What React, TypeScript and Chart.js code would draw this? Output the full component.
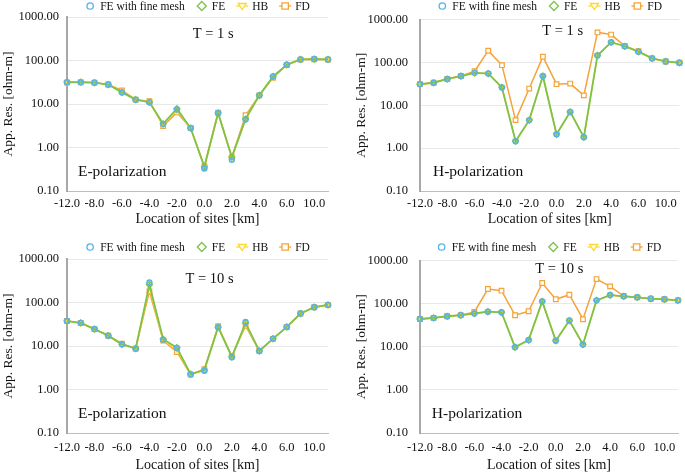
import React, { useEffect, useRef } from 'react';
import { Chart, registerables } from 'chart.js';

Chart.register(...registerables);

// ---------- data ----------
const SITES = [-12, -10, -8, -7, -6, -5, -4, -3, -2, -1, 0, 1, 2, 3, 4, 5, 6, 8, 10, 12];
const Y_TICKS = [0.1, 1, 10, 100, 1000];
const SERIES_NAMES = ['FE with fine mesh', 'FE', 'HB', 'FD'];

// E-polarization, T = 1 s
const E1_FINE = [31.5, 31.5, 31, 28, 18.5, 12.6, 10.9, 3.5, 7.5, 2.8, 0.33, 6.2, 0.52, 4.4, 15.8, 43, 80, 106, 108, 106];
const E1_FE = [32, 32, 31, 28, 18.5, 12.6, 11, 3.5, 7.8, 2.8, 0.36, 6.2, 0.6, 4.5, 15.8, 43, 80, 106, 108, 106];
const E1_HB = [31.5, 31.5, 31, 28, 18.5, 12.6, 11, 3.4, 7.2, 2.8, 0.36, 6.2, 0.58, 4.6, 15.8, 42, 80, 106, 108, 106];
const E1_FD = [31, 31.5, 31, 28, 20.5, 12.6, 11.6, 3.1, 6.4, 2.8, 0.37, 6.3, 0.6, 5.5, 15.8, 40, 79, 105, 107, 105];

// H-polarization, T = 1 s
const H1_FINE = [31, 33.5, 41, 48, 57, 55, 26, 1.45, 4.5, 48, 2.1, 7, 1.8, 145, 295, 238, 178, 124, 105, 98];
const H1_FE = [31, 33.5, 41, 48, 57, 55, 26, 1.45, 4.5, 48, 2.1, 7, 1.8, 145, 295, 238, 178, 124, 105, 98];
const H1_HB = [31, 33.5, 41, 48, 57, 55, 26, 1.45, 4.5, 48, 2.1, 7, 1.8, 145, 295, 238, 178, 124, 105, 98];
const H1_FD = [31, 33.5, 41, 48, 62, 188, 86, 4.5, 24.5, 136, 31, 32, 17, 500, 445, 240, 183, 124, 105, 98];

// E-polarization, T = 10 s
const E10_FINE = [37.5, 34, 24.5, 17.3, 10.9, 8.7, 290, 14, 9, 2.25, 2.7, 27, 5.5, 35.8, 7.7, 14.8, 27.4, 55.7, 78, 88];
const E10_FE = [37.5, 34, 24.5, 17.3, 10.9, 8.8, 260, 14.3, 9.2, 2.25, 2.8, 27, 5.6, 34, 7.7, 14.8, 27.4, 55.7, 78, 88];
const E10_HB = [37.5, 34, 24.5, 17.3, 11, 8.7, 230, 13.8, 8.5, 2.25, 2.8, 27.5, 5.7, 32, 7.7, 14.8, 27.4, 55.7, 78, 88];
const E10_FD = [37.5, 34, 24.5, 17.3, 11.3, 8.7, 180, 13.3, 7.3, 2.2, 2.95, 28.4, 5.9, 29, 7.7, 14.6, 27.4, 55.7, 78, 88];

// H-polarization, T = 10 s
const H10_FINE = [44, 46.7, 51, 54, 59, 65, 63, 9.8, 14.3, 113, 13.8, 40.5, 11.3, 119, 158, 148, 140, 130, 126, 119];
const H10_FE = [44, 46.7, 51, 54, 59, 65, 63, 9.8, 14.3, 113, 13.8, 40.5, 11.3, 119, 158, 148, 140, 130, 126, 119];
const H10_HB = [44, 46.7, 51, 54, 59, 65, 63, 9.8, 14.3, 113, 13.8, 40.5, 11.3, 119, 158, 148, 140, 130, 126, 119];
const H10_FD = [44, 46.7, 51, 54, 64, 218, 200, 53.8, 66.5, 300, 126, 161, 43.5, 371, 251, 150, 140, 130, 126, 119];

// ---------- styles ----------
const FONT = '"Liberation Serif", "Times New Roman", serif';
const TEXT = '#111111';
const BLUE = '#58B3E6';
const GREEN = '#7DC24B';
const YELLOW = '#FFD82A';
const ORANGE = '#F5A33A';
const COLORS = [BLUE, GREEN, YELLOW, ORANGE];
const STYLES = ['circle', 'rectRot', 'triangle', 'rect'];

function drawMarker(ctx: CanvasRenderingContext2D, idx: number, x: number, y: number) {
  ctx.save();
  ctx.strokeStyle = COLORS[idx];
  ctx.lineWidth = 1.3;
  ctx.beginPath();
  if (idx === 0) {
    ctx.arc(x, y, 3.2, 0, Math.PI * 2);
  } else if (idx === 1) {
    ctx.moveTo(x, y - 4.5);
    ctx.lineTo(x + 4.5, y);
    ctx.lineTo(x, y + 4.5);
    ctx.lineTo(x - 4.5, y);
    ctx.closePath();
  } else if (idx === 2) {
    ctx.moveTo(x - 4, y - 2.5);
    ctx.lineTo(x + 4, y - 2.5);
    ctx.lineTo(x, y + 3.5);
    ctx.closePath();
  } else {
    ctx.rect(x - 3.2, y - 3.2, 6.4, 6.4);
  }
  if (idx >= 2) {
    ctx.fillStyle = '#fff';
    ctx.fill();
  }
  ctx.stroke();
  ctx.restore();
}

const legendPlugin = {
  id: 'customLegend',
  afterDraw(chart: any) {
    const ctx: CanvasRenderingContext2D = chart.ctx;
    const area = chart.chartArea;
    ctx.save();
    ctx.font = `11.5px ${FONT}`;
    const GAP = 17;
    const widths = SERIES_NAMES.map((n) => ctx.measureText(n).width);
    const total = widths.reduce((a, w) => a + 5 + 10 + w, 0) + (GAP - 5) * (SERIES_NAMES.length - 1);
    let x = (area.left + area.right) / 2 - total / 2;
    const y = 6;
    SERIES_NAMES.forEach((name, i) => {
      const cx = x + 5;
      if (i >= 2) {
        ctx.save();
        ctx.strokeStyle = COLORS[i];
        ctx.lineWidth = 1.3;
        ctx.beginPath();
        ctx.moveTo(cx - 6, y);
        ctx.lineTo(cx + 6, y);
        ctx.stroke();
        ctx.restore();
      }
      drawMarker(ctx, i, cx, y);
      ctx.fillStyle = TEXT;
      ctx.textAlign = 'left';
      ctx.textBaseline = 'middle';
      ctx.fillText(name, cx + 10, y + 0.5);
      x = cx + 10 + widths[i] + GAP - 5;
    });
    ctx.restore();
  },
};

const notePlugin = {
  id: 'notes',
  afterDraw(chart: any) {
    const notes = chart.options.plugins.notes;
    if (!notes) return;
    const ctx: CanvasRenderingContext2D = chart.ctx;
    const { left, top, width, height } = chart.chartArea;
    ctx.save();
    ctx.fillStyle = TEXT;
    ctx.textBaseline = 'middle';
    ctx.font = `14.5px ${FONT}`;
    ctx.textAlign = 'center';
    ctx.fillText(notes.period, left + notes.px * width, top + notes.py * height);
    ctx.font = `15.5px ${FONT}`;
    ctx.textAlign = 'left';
    ctx.fillText(notes.pol, left + notes.lx * width, top + notes.ly * height);
    ctx.restore();
  },
};

type PanelProps = {
  fine: number[];
  fe: number[];
  hb: number[];
  fd: number[];
  period: string;
  pol: string;
  px: number;
  py: number;
  lx: number;
  ly: number;
  left: number;
  top: number;
  width: number;
  height: number;
  yWidth: number;
  yTickPad: number;
  yTitlePad: number;
  padRight: number;
  padTop: number;
  xHeight: number;
  xTickPad: number;
  xTitlePad: number;
};

function Panel(p: PanelProps) {
  const ref = useRef<HTMLCanvasElement | null>(null);
  useEffect(() => {
    if (!ref.current) return;
    const series = [p.fine, p.fe, p.hb, p.fd];
    const datasets = series.map((d, i) => ({
      label: SERIES_NAMES[i],
      data: d,
      showLine: i !== 0,
      borderColor: COLORS[i],
      borderWidth: i === 0 ? 0 : i === 1 ? 1.8 : 1.5,
      backgroundColor: COLORS[i],
      pointStyle: STYLES[i],
      pointRotation: i === 2 ? 180 : 0,
      pointRadius: i === 0 ? 2.4 : i === 3 ? 3.3 : 3,
      pointBorderWidth: i === 0 ? 1.6 : 1.2,
      pointBorderColor: COLORS[i],
      pointBackgroundColor: i === 3 ? '#ffffff' : i === 2 ? YELLOW : 'rgba(0,0,0,0)',
      tension: 0,
      clip: false as any,
    }));
    const chart = new Chart(ref.current, {
      type: 'line',
      data: { labels: SITES.map(String), datasets },
      options: {
        animation: false,
        responsive: false,
        maintainAspectRatio: false,
        events: [],
        layout: { padding: { top: p.padTop, right: p.padRight, left: 0, bottom: 0 } },
        plugins: {
          legend: { display: false },
          tooltip: { enabled: false },
          notes: { period: p.period, pol: p.pol, px: p.px, py: p.py, lx: p.lx, ly: p.ly },
        } as any,
        scales: {
          x: {
            type: 'category',
            offset: false,
            grid: { display: false, drawTicks: false },
            border: { color: '#BDBDBD', width: 1 },
            ticks: {
              autoSkip: false,
              maxRotation: 0,
              minRotation: 0,
              padding: p.xTickPad,
              color: TEXT,
              font: { family: FONT, size: 12.5 },
              callback: (_v: any, i: number) => (i % 2 === 0 ? SITES[i].toFixed(1) : ''),
            },
            title: {
              display: true,
              text: 'Location of sites [km]',
              color: TEXT,
              font: { family: FONT, size: 14 },
              padding: { top: 0, bottom: p.xTitlePad },
            },
            afterFit: (s: any) => {
              s.height = p.xHeight;
            },
          },
          y: {
            type: 'logarithmic',
            min: 0.1,
            max: 1000,
            afterBuildTicks: (s: any) => {
              s.ticks = Y_TICKS.map((v) => ({ value: v }));
            },
            grid: { color: '#E8E8E8', lineWidth: 1, drawTicks: false },
            border: { color: '#A8A8A8', width: 2 },
            ticks: {
              padding: p.yTickPad,
              color: TEXT,
              font: { family: FONT, size: 12.5 },
              callback: (v: any) => Number(v).toFixed(2),
            },
            title: {
              display: true,
              text: 'App. Res. [ohm-m]',
              color: TEXT,
              font: { family: FONT, size: 13.5 },
              padding: { top: p.yTitlePad, bottom: 0 },
            },
            afterFit: (s: any) => {
              s.width = p.yWidth;
            },
          },
        },
      },
      plugins: [legendPlugin, notePlugin],
    });
    return () => chart.destroy();
  }, []);
  return (
    <canvas
      ref={ref}
      width={p.width}
      height={p.height}
      style={{ position: 'absolute', left: p.left, top: p.top, width: p.width, height: p.height, display: 'block' }}
    />
  );
}

export default function App() {
  const topCommon = { top: 0, height: 232, padTop: 17, xHeight: 41, xTickPad: 5, xTitlePad: 4 };
  const botCommon = { top: 241, height: 240, padTop: 18, xHeight: 48, xTickPad: 7, xTitlePad: 7 };
  const leftCommon = { left: 0, width: 342, yWidth: 67, yTickPad: 8, yTitlePad: 0, padRight: 14 };
  const rightCommon = { left: 340, width: 345, yWidth: 80, yTickPad: 12, yTitlePad: 13, padRight: 2 };
  return (
    <div
      style={{
        position: 'absolute',
        left: 0,
        top: 0,
        width: 685,
        height: 473,
        overflow: 'hidden',
        background: '#ffffff',
      }}
    >
      <Panel
        {...topCommon}
        {...leftCommon}
        fine={E1_FINE}
        fe={E1_FE}
        hb={E1_HB}
        fd={E1_FD}
        period="T = 1 s"
        pol="E-polarization"
        px={0.56}
        py={0.1}
        lx={0.042}
        ly={0.89}
      />
      <Panel
        {...topCommon}
        {...rightCommon}
        fine={H1_FINE}
        fe={H1_FE}
        hb={H1_HB}
        fd={H1_FD}
        period="T = 1 s"
        pol="H-polarization"
        px={0.55}
        py={0.07}
        lx={0.05}
        ly={0.89}
      />
      <Panel
        {...botCommon}
        {...leftCommon}
        fine={E10_FINE}
        fe={E10_FE}
        hb={E10_HB}
        fd={E10_FD}
        period="T = 10 s"
        pol="E-polarization"
        px={0.546}
        py={0.115}
        lx={0.042}
        ly={0.89}
      />
      <Panel
        {...botCommon}
        {...rightCommon}
        fine={H10_FINE}
        fe={H10_FE}
        hb={H10_HB}
        fd={H10_FD}
        period="T = 10 s"
        pol="H-polarization"
        px={0.54}
        py={0.05}
        lx={0.046}
        ly={0.89}
      />
    </div>
  );
}
